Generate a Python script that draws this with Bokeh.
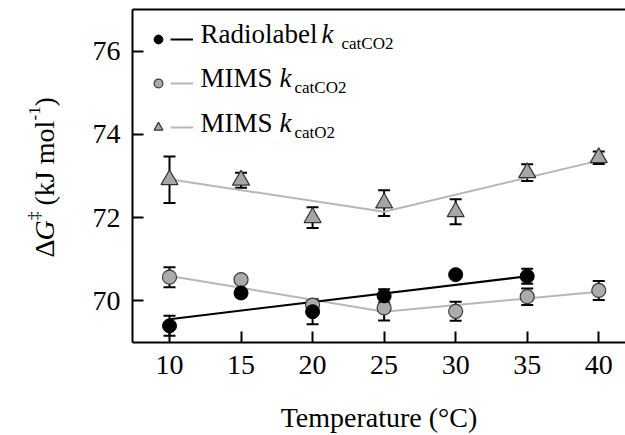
import math
from bokeh.plotting import figure
from bokeh.layouts import row
from bokeh.models import (Range1d, FixedTicker, Label, Whisker, TeeHead,
                          ColumnDataSource, Legend, LegendItem, LinearAxis)
from bokeh.core.properties import value
from bokeh.embed import file_html
from bokeh.resources import INLINE

# ---------------- data ----------------
temps_radio = [10, 15, 20, 25, 30, 35]
dg_radio = [69.40, 70.19, 69.74, 70.12, 70.63, 70.59]
err_radio = [0.24, 0.09, 0.30, 0.16, 0.05, 0.18]

temps_mims = [10, 15, 20, 25, 30, 35, 40]
dg_mims_co2 = [70.57, 70.51, 69.90, 69.83, 69.75, 70.10, 70.25]
err_mims_co2 = [0.24, 0.08, 0.12, 0.30, 0.23, 0.20, 0.23]
dg_mims_o2 = [72.91, 72.90, 72.00, 72.35, 72.14, 73.08, 73.44]
err_mims_o2 = [0.56, 0.18, 0.25, 0.31, 0.30, 0.20, 0.15]

fit_radio_t = [10, 35]
fit_radio_dg = [69.56, 70.59]
fit_co2_t = [10, 25, 40]
fit_co2_dg = [70.60, 69.74, 70.22]
fit_o2_t = [10, 25, 40]
fit_o2_dg = [72.92, 72.14, 73.37]

x_ticks = [10, 15, 20, 25, 30, 35, 40]
y_ticks = [70, 72, 74, 76]

legend_names = ["Radiolabel", "MIMS", "MIMS"]
legend_k = ["k", "k", "k"]
legend_subs = ["catCO2", "catCO2", "catO2"]

x_label = "Temperature (°C)"
y_label_parts = ["\u0394", "G", "\u2021", "(kJ mol", "-1", ")"]

FONT = "Liberation Serif"
GRAY_LINE = "#b7b7b7"

# ---------------- main figure ----------------
p = figure(width=565, height=435,
           x_range=Range1d(7.414, 41.87), y_range=Range1d(69, 77),
           output_backend="svg", toolbar_location=None,
           min_border_left=72, min_border_right=0,
           min_border_top=9, min_border_bottom=91)
p.outline_line_color = None
p.grid.visible = False
p.background_fill_color = "white"
p.border_fill_color = "white"

for ax in (p.xaxis[0], p.yaxis[0]):
    ax.axis_line_width = 2
    ax.axis_line_color = "black"
    ax.major_tick_line_width = 2
    ax.major_tick_line_color = "black"
    ax.major_tick_in = 11
    ax.major_tick_out = 0
    ax.minor_tick_line_color = None
    ax.major_label_text_font = FONT
    ax.major_label_text_font_size = "28px"
    ax.major_label_text_color = "black"

p.xaxis.ticker = FixedTicker(ticks=x_ticks)
p.yaxis.ticker = FixedTicker(ticks=y_ticks)
p.xaxis.major_label_standoff = 13
p.yaxis.major_label_standoff = 12
p.xaxis.axis_label = x_label
p.xaxis.axis_label_text_font = FONT
p.xaxis.axis_label_text_font_size = "28px"
p.xaxis.axis_label_text_font_style = "normal"
p.xaxis.axis_label_text_color = "black"
p.xaxis.axis_label_standoff = 25

# top frame line: an empty axis above
top_axis = LinearAxis(ticker=FixedTicker(ticks=[]), axis_line_width=2,
                      axis_line_color="black", major_tick_out=0, major_tick_in=0,
                      minor_tick_out=0, minor_tick_in=0, major_label_standoff=0)
p.add_layout(top_axis, "above")

# ---------------- fit lines ----------------
l_co2 = p.line(fit_co2_t, fit_co2_dg, line_color=GRAY_LINE, line_width=2)
l_o2 = p.line(fit_o2_t, fit_o2_dg, line_color=GRAY_LINE, line_width=2)
l_radio = p.line(fit_radio_t, fit_radio_dg, line_color="black", line_width=2)

# ---------------- error bars ----------------
def add_errors(xs, ys, es):
    src = ColumnDataSource(dict(x=xs,
                                upper=[y + e for y, e in zip(ys, es)],
                                lower=[y - e for y, e in zip(ys, es)]))
    p.add_layout(Whisker(source=src, base="x", upper="upper", lower="lower",
                         line_color="black", line_width=2,
                         upper_head=TeeHead(size=12, line_width=2, line_color="black"),
                         lower_head=TeeHead(size=12, line_width=2, line_color="black")))

add_errors(temps_mims, dg_mims_o2, err_mims_o2)
add_errors(temps_mims, dg_mims_co2, err_mims_co2)
add_errors(temps_radio, dg_radio, err_radio)

# ---------------- markers ----------------
s_o2 = p.scatter(temps_mims, dg_mims_o2, marker="triangle", size=17,
                 fill_color="#a6a6a6", line_color="#333333", line_width=1.2)
s_co2 = p.scatter(temps_mims, dg_mims_co2, marker="circle", size=14,
                  fill_color="#ababab", line_color="#3a3a3a", line_width=1.2)
s_radio = p.scatter(temps_radio, dg_radio, marker="circle", size=14,
                    fill_color="black", line_color="black")

# ---------------- legend (marker column + line column) ----------------
common = dict(padding=0, margin=0, spacing=22, glyph_height=22,
              label_standoff=0, label_width=0, label_height=0,
              label_text_font_size="1px", background_fill_alpha=0,
              border_line_color=None, inactive_fill_alpha=0)
leg_m = Legend(items=[LegendItem(label=value(""), renderers=[s_radio]),
                      LegendItem(label=value(""), renderers=[s_co2]),
                      LegendItem(label=value(""), renderers=[s_o2])],
               glyph_width=22, location=(15, 204), **common)
leg_l = Legend(items=[LegendItem(label=value(""), renderers=[l_radio]),
                      LegendItem(label=value(""), renderers=[l_co2]),
                      LegendItem(label=value(""), renderers=[l_o2])],
               glyph_width=23, location=(38, 204), **common)
p.add_layout(leg_m)
p.add_layout(leg_l)


def lab(fig, text, x, y, size="27px", style="normal", angle=0.0):
    fig.add_layout(Label(x=x, y=y, x_units="screen", y_units="screen", text=text,
                         text_font=FONT, text_font_size=size, text_font_style=style,
                         text_color="black", angle=angle,
                         text_align="left", text_baseline="alphabetic"))


row_base = [309, 264.5, 220]
k_x = [189, 147, 147]
sub_x = [209, 162, 162]
for i in range(3):
    lab(p, legend_names[i], 68, row_base[i])
    lab(p, legend_k[i], k_x[i], row_base[i], style="italic")
    lab(p, legend_subs[i], sub_x[i], row_base[i] - 9.5, size="17px")

# ---------------- y-axis title panel (rotated pieces) ----------------
ylab = figure(width=60, height=435, x_axis_location=None, y_axis_location=None,
              toolbar_location=None, output_backend="svg", min_border=0,
              x_range=Range1d(0, 1), y_range=Range1d(0, 1))
ylab.outline_line_color = None
ylab.grid.visible = False
ylab.background_fill_color = "white"
ylab.border_fill_color = "white"

# the panel's frame is aligned with the main frame (its bottom is at the x axis)
y0 = 85
base_x = 44
offsets = [0, 17, 37.5, 52, 137, 151]
sizes = ["28px", "28px", "17px", "28px", "17px", "28px"]
styles = ["normal", "italic", "normal", "normal", "normal", "normal"]
raise_px = [0, 0, 10, 0, 10, 0]
for txt, u, sz, st, r in zip(y_label_parts, offsets, sizes, styles, raise_px):
    lab(ylab, txt, base_x - r, y0 + u, size=sz, style=st, angle=math.pi / 2)

layout = row(ylab, p, spacing=0)
open("out.html", "w").write(file_html(layout, INLINE))
